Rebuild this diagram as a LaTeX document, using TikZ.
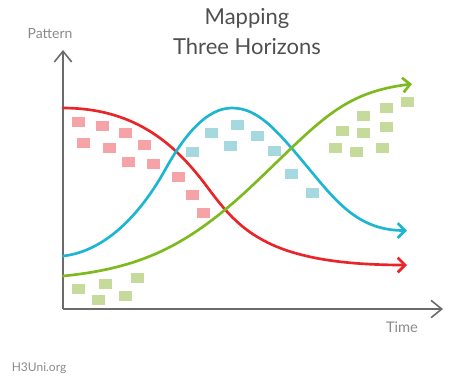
\documentclass[tikz,border=0pt]{standalone}
\usepackage{fontspec}
\setmainfont{Lato}
\usetikzlibrary{arrows.meta}
\definecolor{hred}{HTML}{E8262A}
\definecolor{hcyan}{HTML}{1DB5D2}
\definecolor{hgreen}{HTML}{7DBA1F}
\definecolor{pred}{HTML}{F5A3A7}
\definecolor{pcyan}{HTML}{A6D8DF}
\definecolor{pgreen}{HTML}{C6DA9C}
\definecolor{axisgray}{HTML}{6B6B6B}
\definecolor{titlegray}{HTML}{4F4F4F}
\definecolor{labelgray}{HTML}{8A8A8A}
\begin{document}
\begin{tikzpicture}[x=0.75pt,y=-0.75pt,
  sq/.style={minimum width=9.75pt,minimum height=7.5pt,inner sep=0pt,draw=none},
  rsq/.style={sq,fill=pred},
  csq/.style={sq,fill=pcyan},
  gsq/.style={sq,fill=pgreen},
  curve/.style={line width=2pt,line cap=round,-{Straight Barb[length=5.5pt,width=11pt,line width=2pt]}},
  axis/.style={line width=1.2pt,axisgray,-{Straight Barb[length=8pt,width=13pt,line width=1.2pt]}},
  lbl/.style={text=labelgray,inner sep=0pt}]
\useasboundingbox (0,0) rectangle (449,376);
% titles
\node[text=titlegray,font=\fontsize{16.5}{18}\selectfont] (t1) at (247,18) {Mapping};
\node[text=titlegray,font=\fontsize{16.5}{18}\selectfont] (t2) at (247,46) {Three Horizons};
\node[lbl,font=\fontsize{10.5}{12}\selectfont] (pat) at (50,34) {Pattern};
\node[lbl,font=\fontsize{11}{12}\selectfont] (time) at (402,327) {Time};
\node[lbl,font=\fontsize{9}{10}\selectfont] (web) at (39,368) {H3Uni.org};
% squares
\node[rsq] (r1) at (78,122) {};
\node[rsq] (r2) at (102,126) {};
\node[rsq] (r3) at (125,133) {};
\node[rsq] (r4) at (83,143) {};
\node[rsq] (r5) at (109,148) {};
\node[rsq] (r6) at (144,145) {};
\node[rsq] (r7) at (128,162) {};
\node[rsq] (r8) at (153,164) {};
\node[rsq] (r9) at (178,177) {};
\node[rsq] (r10) at (192,195) {};
\node[rsq] (r11) at (203,213) {};
\node[csq] (c1) at (192,152) {};
\node[csq] (c2) at (211,133) {};
\node[csq] (c3) at (230,146) {};
\node[csq] (c4) at (237,125) {};
\node[csq] (c5) at (257,136) {};
\node[csq] (c6) at (274,151) {};
\node[csq] (c7) at (291,174) {};
\node[csq] (c8) at (312,193) {};
\node[gsq] (g1) at (407,102) {};
\node[gsq] (g2) at (386,108) {};
\node[gsq] (g3) at (363,116) {};
\node[gsq] (g4) at (342,131) {};
\node[gsq] (g5) at (363,133) {};
\node[gsq] (g6) at (386,127) {};
\node[gsq] (g7) at (335,148) {};
\node[gsq] (g8) at (356,152) {};
\node[gsq] (g9) at (382,148) {};
\node[gsq] (g10) at (78,289) {};
\node[gsq] (g11) at (98,300) {};
\node[gsq] (g12) at (105,284) {};
\node[gsq] (g13) at (125,296) {};
\node[gsq] (g14) at (137,278) {};
% axes
\coordinate (o) at (63,309);
\coordinate (ytop) at (63,50);
\coordinate (xend) at (443,309);
\draw[axis] (o) -- (ytop);
\draw[axis] (o) -- (xend);
% curves
\coordinate (rs) at (63,108);
\coordinate (rm) at (208,188);
\coordinate (re) at (407,265);
\draw[curve,hred] (rs) .. controls (138,108) and (178,147.5) .. (rm)
  .. controls (240,231) and (270,265) .. (re);
\coordinate (cs) at (63,256);
\coordinate (ca) at (165,170);
\coordinate (cp) at (232,108);
\coordinate (cb) at (305,164);
\coordinate (ce) at (407,230.5);
\draw[curve,hcyan] (cs) .. controls (108,251) and (143,209.6) .. (ca)
  .. controls (185,134) and (207,108) .. (cp)
  .. controls (257,108) and (275,128) .. (cb)
  .. controls (335,200) and (357,230.5) .. (ce);
\coordinate (gs) at (63,276);
\coordinate (gm) at (255,183);
\coordinate (ge) at (412,84);
\draw[curve,hgreen] (gs) .. controls (143,268) and (190,244.75) .. (gm)
  .. controls (320,121.25) and (342,92.4) .. (ge);
\end{tikzpicture}
\end{document}
